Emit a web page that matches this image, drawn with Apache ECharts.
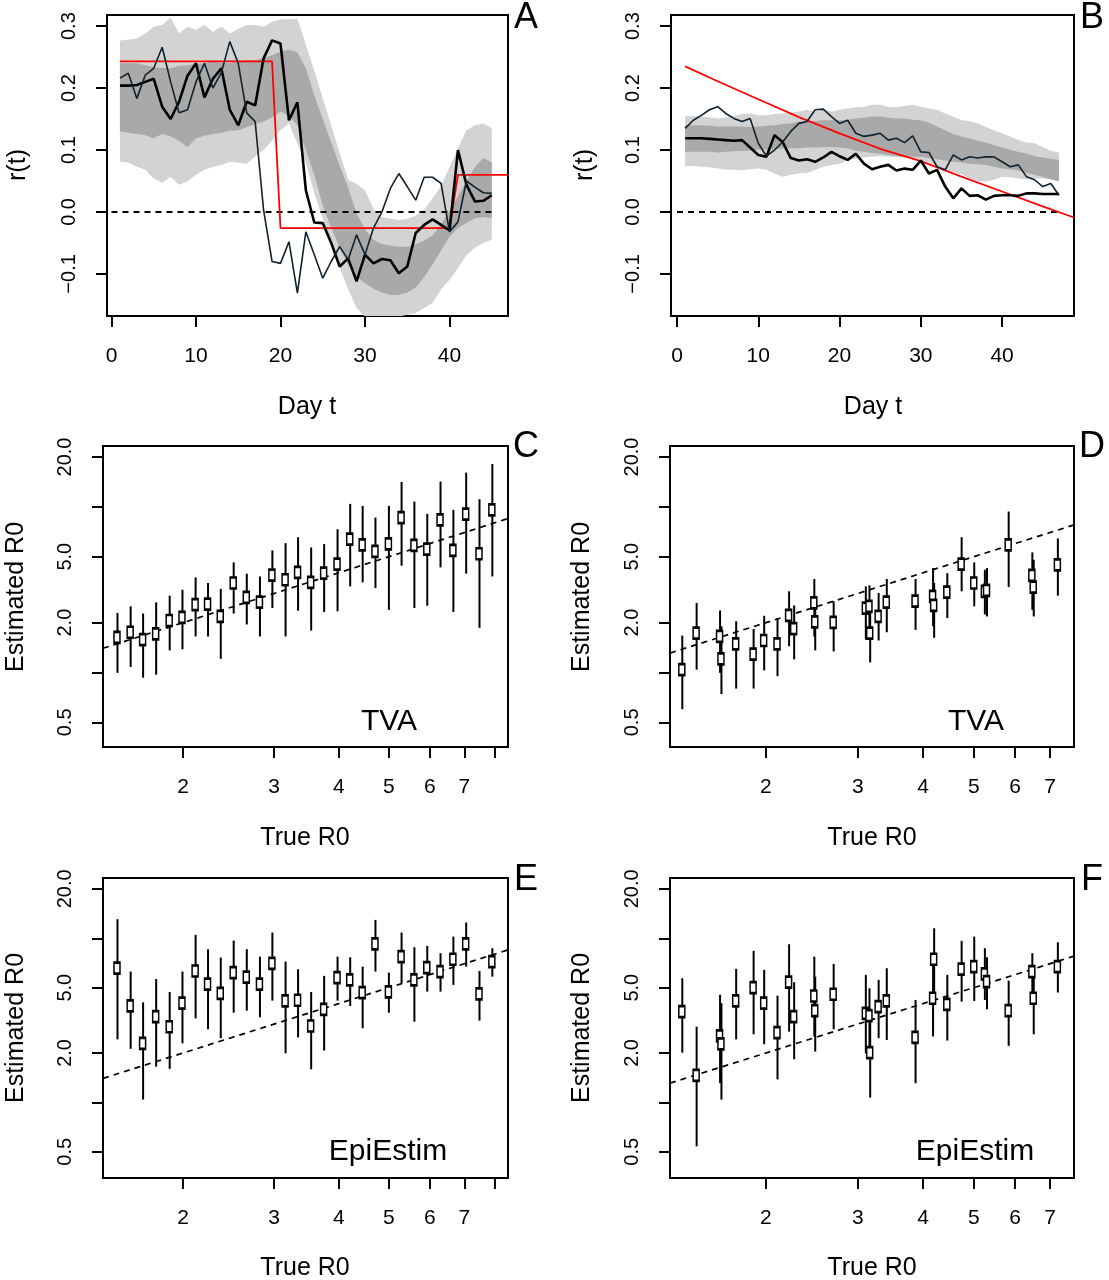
<!DOCTYPE html>
<html><head><meta charset="utf-8">
<script src="https://cdn.jsdelivr.net/npm/echarts@6/dist/echarts.min.js"></script>
<style>html,body{margin:0;padding:0;background:#fff}#c{width:1109px;height:1280px}</style>
</head><body><div id="c"></div>
<script>
// ---------- Panel A data ----------
const A_days = [1,2,3,4,5,6,7,8,9,10,11,12,13,14,15,16,17,18,19,20,21,22,23,24,25,26,27,28,29,30,31,32,33,34,35,36,37,38,39,40,41,42,43,44,45];
const A_outerHi = [0.277,0.278,0.280,0.288,0.299,0.302,0.314,0.288,0.299,0.294, 0.302,0.291,0.299,0.288,0.296,0.302,0.302,0.299,0.307,0.311, 0.311,0.312,0.270,0.228,0.184,0.140,0.095,0.052,0.045,0.035, 0.005,-0.008,-0.011,-0.013,-0.011,-0.006,0.004,0.022,0.042,0.072, 0.103,0.132,0.140,0.143,0.135];
const A_outerLo = [0.081,0.080,0.073,0.068,0.054,0.047,0.057,0.044,0.049,0.060, 0.068,0.073,0.076,0.081,0.080,0.078,0.090,0.100,0.115,0.132, 0.143,0.110,0.080,0.030,-0.010,-0.050,-0.090,-0.125,-0.155,-0.169, -0.174,-0.174,-0.172,-0.169,-0.166,-0.163,-0.155,-0.147,-0.125,-0.110, -0.090,-0.070,-0.058,-0.050,-0.045];
const A_innerHi = [0.240,0.240,0.240,0.237,0.234,0.233,0.232,0.236,0.237,0.239, 0.240,0.242,0.241,0.240,0.242,0.245,0.245,0.248,0.253,0.259, 0.262,0.258,0.232,0.188,0.150,0.112,0.075,0.040,-0.002,-0.028, -0.045,-0.052,-0.054,-0.056,-0.056,-0.052,-0.046,-0.038,-0.020,0.002, 0.025,0.050,0.072,0.087,0.080];
const A_innerLo = [0.130,0.128,0.126,0.124,0.119,0.126,0.122,0.115,0.105,0.119, 0.123,0.126,0.128,0.131,0.132,0.137,0.142,0.146,0.153,0.162, 0.155,0.140,0.100,0.060,0.010,-0.025,-0.058,-0.085,-0.105,-0.115, -0.124,-0.130,-0.134,-0.134,-0.130,-0.122,-0.105,-0.085,-0.062,-0.040, -0.026,-0.018,-0.010,-0.008,-0.010];
const A_thin = [0.216,0.224,0.183,0.221,0.232,0.266,0.210,0.160,0.165,0.210, 0.240,0.200,0.225,0.275,0.240,0.160,0.146,0.003,-0.080,-0.083, -0.048,-0.131,-0.032,-0.069,-0.107,-0.080,-0.056,-0.077,-0.037,-0.069, -0.026,0.000,0.038,0.062,0.041,0.019,0.056,0.056,0.046,-0.032, -0.016,0.050,0.040,0.031,0.030];
const A_thick = [0.204,0.204,0.205,0.210,0.215,0.170,0.150,0.178,0.220,0.240, 0.185,0.215,0.232,0.165,0.140,0.178,0.172,0.248,0.277,0.272, 0.148,0.177,0.035,-0.017,-0.018,-0.050,-0.088,-0.075,-0.112,-0.069, -0.083,-0.076,-0.078,-0.099,-0.088,-0.034,-0.021,-0.012,-0.021,-0.030, 0.100,0.044,0.017,0.018,0.027];
const A_redDays = [1,19,20,40,41,47];
const A_red = [0.243,0.243,-0.026,-0.026,0.060,0.060];
const A_zeroDays = [0,45];

// ---------- Panel B data ----------
const B_days = [1,2,3,4,5,6,7,8,9,10,11,12,13,14,15,16,17,18,19,20,21,22,23,24,25,26,27,28,29,30,31,32,33,34,35,36,37,38,39,40,41,42,43,44,45,46,47];
const B_outerHi = [0.155,0.155,0.154,0.153,0.151,0.153,0.155,0.158,0.159,0.156, 0.156,0.158,0.159,0.160,0.162,0.165,0.162,0.165,0.162,0.165, 0.167,0.169,0.170,0.173,0.173,0.170,0.169,0.171,0.173,0.170, 0.167,0.165,0.159,0.154,0.148,0.147,0.143,0.137,0.132,0.127, 0.122,0.116,0.112,0.111,0.105,0.099,0.096];
const B_innerHi = [0.140,0.140,0.140,0.139,0.138,0.138,0.138,0.138,0.137,0.138, 0.139,0.140,0.142,0.143,0.146,0.146,0.147,0.148,0.148,0.148, 0.149,0.151,0.152,0.154,0.154,0.152,0.151,0.151,0.149,0.148, 0.144,0.138,0.132,0.126,0.122,0.119,0.115,0.112,0.108,0.104, 0.100,0.097,0.094,0.090,0.088,0.086,0.084];
const B_innerLo = [0.097,0.097,0.097,0.097,0.096,0.097,0.098,0.099,0.099,0.101, 0.101,0.101,0.103,0.103,0.103,0.104,0.104,0.105,0.105,0.104, 0.103,0.099,0.097,0.095,0.094,0.092,0.090,0.089,0.089,0.089, 0.087,0.085,0.083,0.081,0.080,0.078,0.077,0.076,0.073,0.070, 0.069,0.067,0.063,0.060,0.057,0.053,0.049];
const B_outerLo = [0.074,0.074,0.073,0.072,0.070,0.068,0.068,0.067,0.069,0.070, 0.068,0.062,0.057,0.060,0.062,0.063,0.068,0.073,0.076,0.078, 0.083,0.086,0.088,0.089,0.090,0.089,0.089,0.088,0.087,0.084, 0.080,0.074,0.068,0.065,0.061,0.054,0.050,0.049,0.052,0.057, 0.056,0.054,0.053,0.054,0.054,0.052,0.052];
const B_thin = [0.135,0.148,0.156,0.165,0.170,0.159,0.151,0.146,0.151,0.111, 0.090,0.100,0.113,0.130,0.143,0.146,0.165,0.166,0.154,0.143, 0.148,0.127,0.122,0.124,0.127,0.116,0.119,0.112,0.123,0.097, 0.096,0.073,0.068,0.092,0.084,0.089,0.087,0.089,0.089,0.081, 0.073,0.076,0.057,0.052,0.041,0.046,0.027];
const B_thick = [0.119,0.119,0.119,0.118,0.117,0.116,0.115,0.116,0.104,0.092, 0.089,0.124,0.113,0.087,0.083,0.085,0.081,0.088,0.097,0.090, 0.084,0.094,0.078,0.069,0.073,0.076,0.067,0.070,0.068,0.083, 0.062,0.068,0.041,0.022,0.038,0.026,0.027,0.020,0.026,0.027, 0.027,0.026,0.030,0.030,0.029,0.029,0.029];
const B_redDays = [1,5,10,15,20,25,30,35,40,45,48.85];
const B_red = [0.235,0.211,0.182,0.153,0.127,0.102,0.082,0.057,0.033,0.009,-0.009];
const B_zeroDays = [0,47];

// ---------- Panels C-F data (True R0 vs estimated R0) ----------
const CE_true = [1.49,1.58,1.67,1.77,1.88,1.99,2.11,2.23,2.36,2.50,2.65,2.81,2.97,3.15,3.33,3.53,3.74,3.97,4.20,4.44,4.70,4.99,5.28,5.59,5.92,6.28,6.65,7.04,7.47,7.91];
const C_est = [1.63,1.75,1.58,1.71,2.06,2.15,2.57,2.59,2.18,3.47,2.84,2.66,3.87,3.63,4.02,3.50,3.98,4.51,6.38,5.90,5.38,5.98,8.62,5.85,5.56,8.35,5.46,9.03,5.21,9.59];
const C_lo = [0.995,1.08,0.93,0.97,1.36,1.38,1.65,1.65,1.21,2.27,1.95,1.65,2.45,1.65,2.36,1.79,2.32,2.34,3.31,3.50,3.23,2.39,4.41,2.45,2.53,4.31,2.32,3.95,1.86,3.80];
const C_hi = [2.29,2.51,2.27,2.65,2.91,3.16,3.75,3.47,3.20,4.62,3.95,3.80,5.46,6.04,6.56,5.69,5.96,7.33,10.42,10.13,8.62,10.13,14.14,10.76,9.07,14.21,9.59,16.09,11.12,18.15];
const E_est = [6.57,3.87,2.29,3.33,2.89,4.02,6.32,5.25,4.62,6.18,5.79,5.25,7.04,4.15,4.19,2.92,3.69,5.76,5.58,4.67,9.24,4.71,7.73,5.58,6.63,6.27,7.45,9.24,4.58,7.21];
const E_lo = [2.42,2.12,1.04,1.65,1.60,2.29,3.25,2.79,2.46,3.52,3.62,3.30,4.17,1.99,2.49,1.59,2.07,4.17,3.87,2.83,6.27,3.52,5.32,3.10,4.73,4.73,5.20,6.72,3.15,5.84];
const E_hi = [13.07,6.27,4.07,5.65,4.71,6.27,10.49,8.58,7.63,9.68,8.58,7.73,10.84,7.21,6.48,4.71,5.90,7.73,7.66,6.72,12.94,6.18,10.84,8.82,8.98,8.11,10.24,12.47,6.32,8.70];
const DF_true = [1.38,1.47,1.63,1.64,1.75,1.89,1.98,2.10,2.21,2.26,2.47,2.48,2.69,3.10,3.15,3.16,3.28,3.40,3.86,4.17,4.19,4.44,4.73,5.00,5.24,5.29,5.82,6.46,6.50,7.23];
const D_est = [1.04,1.73,1.65,1.21,1.49,1.29,1.56,1.49,2.21,1.84,2.63,2.02,2.01,2.45,2.51,1.73,2.18,2.66,2.70,2.88,2.54,3.06,4.51,3.47,3.09,3.13,5.90,3.86,3.28,4.47];
const D_lo = [0.60,1.04,0.995,0.74,0.80,0.80,1.03,0.95,1.44,1.20,1.65,1.36,1.34,1.58,1.77,1.15,1.56,1.75,1.81,1.90,1.62,2.13,3.09,2.51,2.24,2.18,3.28,2.39,2.18,2.91];
const D_hi = [1.67,2.63,2.37,1.90,2.04,1.83,2.20,2.13,3.09,2.54,3.67,2.88,2.69,3.31,3.36,2.51,3.02,3.67,3.67,4.27,3.47,3.98,6.56,4.62,4.17,4.27,9.37,5.31,4.79,6.44];
const F_est = [3.57,1.46,2.54,2.27,4.15,5.01,4.02,2.66,5.40,3.33,4.45,3.62,4.56,3.49,3.38,2.01,3.83,4.15,2.49,4.31,7.45,3.96,6.48,6.72,6.07,5.45,3.62,6.27,4.31,6.72];
const F_lo = [2.01,0.54,1.31,1.04,2.42,2.60,2.26,1.38,2.70,1.83,2.52,2.04,2.79,1.99,2.04,1.07,2.46,2.40,1.31,2.52,4.02,2.38,4.11,4.15,4.21,3.69,2.21,4.21,2.60,4.67];
const F_hi = [5.71,2.89,4.52,4.02,6.51,8.38,6.42,4.47,9.20,5.40,7.73,5.84,6.98,5.98,4.96,3.33,5.58,6.57,4.21,7.21,11.51,5.98,9.64,10.24,8.70,7.66,5.52,8.11,6.42,9.46];

// ---------- tick labels ----------
const R_TICKS = [-0.1,0,0.1,0.2,0.3];
const DAY_TICKS = [0,10,20,30,40];
const EST_TICKS = [0.5,1,2,5,10,20];
const EST_LABELS = [0.5,2,5,20];
const TRUE_TICKS_CE = [2,3,4,5,6,7,8];
const TRUE_TICKS_DF = [2,3,4,5,6,7];
const TRUE_LABELS = [2,3,4,5,6,7];

// ---------- build ----------
const FONT = '"Liberation Sans", Arial, Helvetica, sans-serif';
const L = Math.log10;
const pairs = (xs, ys) => xs.map((x, i) => [x, ys[i]]);
const LIGHT = '#d3d3d3', DARK = '#a9a9a9', THIN = '#10222e';

const grids = [
  {left:107, top:15, width:401, height:301},
  {left:671, top:15, width:403, height:301},
  {left:103, top:446, width:405, height:301},
  {left:670, top:446, width:404, height:301},
  {left:103, top:878, width:405, height:300},
  {left:670, top:878, width:404, height:300}
].map(g => Object.assign(g, {show:true, borderColor:'#000', borderWidth:2, backgroundColor:'transparent', containLabel:false}));

function axis(gi, min, max, ticks, labels, fmt, isY) {
  return {
    type:'value', gridIndex:gi, min:min, max:max,
    axisLine:{show:false, onZero:false},
    splitLine:{show:false},
    minorTick:{show:false},
    axisTick:{show:true, inside:false, length:11, lineStyle:{color:'#000', width:2}, customValues:ticks},
    axisLabel:{show:true, customValues:labels, formatter:fmt, color:'#000', fontFamily:FONT,
      fontSize: isY ? 20 : 21, margin: isY ? 28 : 30, rotate: isY ? 90 : 0, hideOverlap:false}
  };
}
const fmtR = v => v.toFixed(1).replace('-', '\u2212');
const fmtDay = v => String(Math.round(v));
const fmtLogY = v => Math.pow(10, v).toFixed(1);
const fmtLogX = v => String(Math.round(Math.pow(10, v)));

const xAxes = [
  axis(0, -0.53, 46.92, DAY_TICKS, DAY_TICKS, fmtDay, false),
  axis(1, -0.74, 48.85, DAY_TICKS, DAY_TICKS, fmtDay, false),
  axis(2, L(1.40), L(8.50), TRUE_TICKS_CE.map(L), TRUE_LABELS.map(L), fmtLogX, false),
  axis(3, L(1.31), L(7.78), TRUE_TICKS_DF.map(L), TRUE_LABELS.map(L), fmtLogX, false),
  axis(4, L(1.40), L(8.50), TRUE_TICKS_CE.map(L), TRUE_LABELS.map(L), fmtLogX, false),
  axis(5, L(1.31), L(7.78), TRUE_TICKS_DF.map(L), TRUE_LABELS.map(L), fmtLogX, false)
];
const yAxes = [
  axis(0, -0.168, 0.318, R_TICKS, R_TICKS, fmtR, true),
  axis(1, -0.168, 0.318, R_TICKS, R_TICKS, fmtR, true),
  axis(2, L(0.355), L(23.3), EST_TICKS.map(L), EST_LABELS.map(L), fmtLogY, true),
  axis(3, L(0.355), L(23.3), EST_TICKS.map(L), EST_LABELS.map(L), fmtLogY, true),
  axis(4, L(0.346), L(23.3), EST_TICKS.map(L), EST_LABELS.map(L), fmtLogY, true),
  axis(5, L(0.346), L(23.3), EST_TICKS.map(L), EST_LABELS.map(L), fmtLogY, true)
];

const series = [];
// shaded band: one polygon (upper edge then lower edge reversed), clipped to the grid
function band(gi, xs, lo, hi, color) {
  series.push({type:'custom', xAxisIndex:gi, yAxisIndex:gi, silent:true, z:1,
    data: xs.map((x, i) => [x, lo[i], hi[i]]),
    encode:{x:0, y:[1, 2]},
    renderItem: (p, api) => {
      if (p.dataIndex !== 0) return {type:'group', children:[]};
      const pts = [];
      for (let i = 0; i < xs.length; i++) pts.push(api.coord([xs[i], hi[i]]));
      for (let i = xs.length - 1; i >= 0; i--) pts.push(api.coord([xs[i], lo[i]]));
      const cs = p.coordSys;
      return {type:'polygon', shape:{points:pts}, style:{fill:color, stroke:null},
        clipPath:{type:'rect', shape:{x:cs.x, y:cs.y, width:cs.width, height:cs.height}}};
    }});
}
function line(gi, xs, ys, color, width, z, dash) {
  series.push({type:'line', xAxisIndex:gi, yAxisIndex:gi, data:pairs(xs, ys), symbol:'none', silent:true,
    lineStyle:{color:color, width:width, type: dash || 'solid'}, z:z});
}
// Panel A
band(0, A_days, A_outerLo, A_outerHi, LIGHT);
band(0, A_days, A_innerLo, A_innerHi, DARK);
line(0, A_zeroDays, A_zeroDays.map(() => 0), '#000', 2, 2, [6, 5]);
line(0, A_redDays, A_red, '#ff0000', 1.8, 3);
line(0, A_days, A_thick, '#000', 2.6, 4);
line(0, A_days, A_thin, THIN, 1.6, 5);
// Panel B
band(1, B_days, B_outerLo, B_outerHi, LIGHT);
band(1, B_days, B_innerLo, B_innerHi, DARK);
line(1, B_zeroDays, B_zeroDays.map(() => 0), '#000', 2, 2, [6, 5]);
line(1, B_redDays, B_red, '#ff0000', 1.8, 3);
line(1, B_days, B_thick, '#000', 2.6, 4);
line(1, B_days, B_thin, THIN, 1.6, 5);

function scatterPanel(gi, xs, est, lo, hi, xmin, xmax) {
  const lx = [L(xmin), L(xmax)];
  series.push({type:'line', xAxisIndex:gi, yAxisIndex:gi, data:[[lx[0], lx[0]], [lx[1], lx[1]]], symbol:'none', silent:true,
    lineStyle:{color:'#000', width:1.7, type:[6, 5]}, z:2});
  series.push({type:'custom', xAxisIndex:gi, yAxisIndex:gi, silent:true, z:3,
    data: xs.map((x, i) => [L(x), L(lo[i]), L(hi[i])]),
    encode:{x:0, y:[1, 2]},
    renderItem: (p, api) => {
      const a = api.coord([api.value(0), api.value(1)]);
      const b = api.coord([api.value(0), api.value(2)]);
      return {type:'line', shape:{x1:a[0] + 0.5, y1:a[1], x2:b[0] + 0.5, y2:b[1]}, style:{stroke:'#000', lineWidth:2}};
    }});
  series.push({type:'scatter', xAxisIndex:gi, yAxisIndex:gi, silent:true, z:4,
    data: xs.map((x, i) => [L(x), L(est[i])]),
    symbol:'rect', symbolSize:[6, 11],
    itemStyle:{color:'#fff', borderColor:'#000', borderWidth:2, opacity:1}});
}
scatterPanel(2, CE_true, C_est, C_lo, C_hi, 1.40, 8.50);
scatterPanel(3, DF_true, D_est, D_lo, D_hi, 1.31, 7.78);
scatterPanel(4, CE_true, E_est, E_lo, E_hi, 1.40, 8.50);
scatterPanel(5, DF_true, F_est, F_lo, F_hi, 1.31, 7.78);

function txt(s, x, y, size, rot) {
  return {type:'text', x:x, y:y, rotation: rot ? Math.PI / 2 : 0, silent:true, z:10,
    style:{text:s, fill:'#000', font: size + 'px ' + FONT, fontSize:size, fontFamily:FONT,
      textAlign:'center', textVerticalAlign:'middle', align:'center', verticalAlign:'middle'}};
}
const graphic = [
  txt('r(t)', 18, 165, 25, true), txt('r(t)', 585, 165, 25, true),
  txt('Day t', 307, 407, 25), txt('Day t', 873, 407, 25),
  txt('Estimated R0', 16, 597, 25, true), txt('Estimated R0', 582, 597, 25, true),
  txt('Estimated R0', 16, 1028, 25, true), txt('Estimated R0', 582, 1028, 25, true),
  txt('True R0', 305, 838, 25), txt('True R0', 872, 838, 25),
  txt('True R0', 305, 1268, 25), txt('True R0', 872, 1268, 25),
  txt('TVA', 389, 722, 30), txt('TVA', 976, 722, 30),
  txt('EpiEstim', 388, 1152, 30), txt('EpiEstim', 975, 1152, 30),
  txt('A', 526, 18, 36), txt('B', 1092, 18, 36),
  txt('C', 526, 447, 36), txt('D', 1092, 447, 36),
  txt('E', 526, 880, 36), txt('F', 1092, 880, 36)
];

const chart = echarts.init(document.getElementById('c'), null, {renderer:'canvas'});
chart.setOption({
  animation:false,
  backgroundColor:'#fff',
  grid:grids, xAxis:xAxes, yAxis:yAxes, series:series, graphic:graphic
});
</script></body></html>
